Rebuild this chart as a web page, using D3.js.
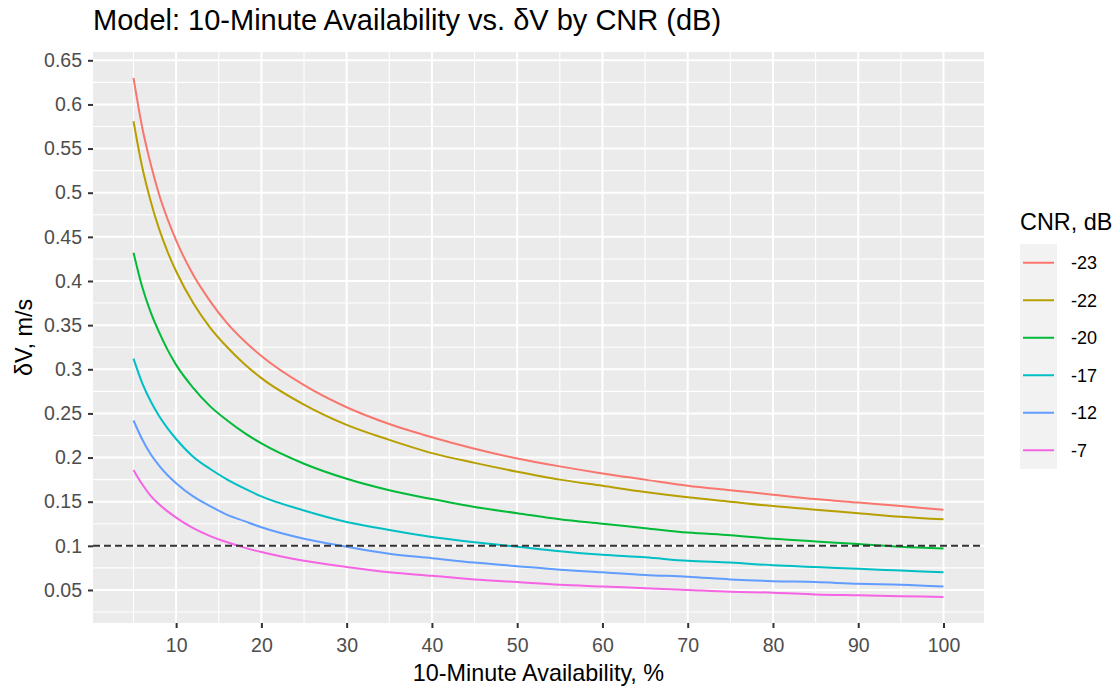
<!DOCTYPE html>
<html>
<head>
  <meta charset="utf-8">
  <title>Model: 10-Minute Availability vs. dV by CNR</title>
  <script src="https://d3js.org/d3.v7.min.js"></script>
  <style>
    body {
      margin: 0;
      background: #fff;
      font-family: Arial, "Liberation Sans", sans-serif;
    }
    .tick-label { font-size: 19.5px; fill: #4d4d4d; }
    .axis-title { font-size: 23.4px; fill: #000; }
  </style>
</head>
<body>
  <div id="chart"></div>
  <script>
    // availability, %
    var availability = [5, 6, 7, 8, 9, 10, 12, 14, 16, 18, 20, 25, 30, 35, 40, 45, 50, 55, 60, 65, 70, 75, 80, 85, 90, 95, 100];

    // CNR levels (dB) shown in the legend
    var cnrLevels = ["-23", "-22", "-20", "-17", "-12", "-7"];

    // delta V, m/s for each CNR
    var dv23 = [0.630, 0.575, 0.533, 0.498, 0.470, 0.446, 0.407, 0.377, 0.352, 0.332, 0.315, 0.282, 0.257, 0.238, 0.223, 0.210, 0.199, 0.190, 0.182, 0.175, 0.168, 0.163, 0.158, 0.153, 0.149, 0.145, 0.141];
    var dv22 = [0.581, 0.530, 0.491, 0.459, 0.433, 0.411, 0.375, 0.347, 0.325, 0.306, 0.290, 0.260, 0.237, 0.220, 0.205, 0.194, 0.184, 0.175, 0.168, 0.161, 0.155, 0.150, 0.145, 0.141, 0.137, 0.133, 0.130];
    var dv20 = [0.432, 0.394, 0.365, 0.342, 0.322, 0.305, 0.279, 0.258, 0.242, 0.228, 0.216, 0.193, 0.176, 0.163, 0.153, 0.144, 0.137, 0.130, 0.125, 0.120, 0.115, 0.112, 0.108, 0.105, 0.102, 0.099, 0.097];
    var dv17 = [0.312, 0.285, 0.264, 0.247, 0.233, 0.221, 0.201, 0.187, 0.175, 0.165, 0.156, 0.140, 0.127, 0.118, 0.110, 0.104, 0.099, 0.094, 0.090, 0.087, 0.083, 0.081, 0.078, 0.076, 0.074, 0.072, 0.070];
    var dv12 = [0.242, 0.221, 0.204, 0.191, 0.180, 0.171, 0.156, 0.145, 0.135, 0.128, 0.121, 0.108, 0.099, 0.091, 0.086, 0.081, 0.077, 0.073, 0.070, 0.067, 0.065, 0.062, 0.060, 0.059, 0.057, 0.056, 0.054];
    var dv7 = [0.186, 0.170, 0.157, 0.147, 0.139, 0.132, 0.120, 0.111, 0.104, 0.098, 0.093, 0.083, 0.076, 0.070, 0.066, 0.062, 0.059, 0.056, 0.054, 0.052, 0.050, 0.048, 0.047, 0.045, 0.044, 0.043, 0.042];

    var threshold = 0.1;

    var xTicks = [10, 20, 30, 40, 50, 60, 70, 80, 90, 100];
    var xMinor = [5, 15, 25, 35, 45, 55, 65, 75, 85, 95];
    var yTicks = [0.05, 0.1, 0.15, 0.2, 0.25, 0.3, 0.35, 0.4, 0.45, 0.5, 0.55, 0.6, 0.65];
    var yMinor = [0.025, 0.075, 0.125, 0.175, 0.225, 0.275, 0.325, 0.375, 0.425, 0.475, 0.525, 0.575, 0.625];

    var colors = ["#F8766D", "#B79F00", "#00BA38", "#00BFC4", "#619CFF", "#F564E3"];

    var seriesValues = [dv23, dv22, dv20, dv17, dv12, dv7];
    var series = cnrLevels.map(function (c, i) {
      return {
        cnr: c,
        color: colors[i],
        points: availability.map(function (a, j) { return { x: a, y: seriesValues[i][j] }; })
      };
    });

    var W = 1119, H = 689;
    var panel = { left: 93, top: 52, right: 984, bottom: 623 };

    var svg = d3.select("#chart")
      .append("svg")
      .attr("width", W)
      .attr("height", H);

    // ggplot style 5% expansion
    function expand(ext) {
      var d = (ext[1] - ext[0]) * 0.05;
      return [ext[0] - d, ext[1] + d];
    }
    var allY = d3.merge(seriesValues);

    var x = d3.scaleLinear()
      .domain(expand(d3.extent(availability)))
      .range([panel.left, panel.right]);

    var y = d3.scaleLinear()
      .domain(expand(d3.extent(allY)))
      .range([panel.bottom, panel.top]);

    // panel background
    svg.append("rect")
      .attr("x", panel.left)
      .attr("y", panel.top)
      .attr("width", panel.right - panel.left)
      .attr("height", panel.bottom - panel.top)
      .attr("fill", "#EBEBEB");

    var grid = svg.append("g");
    grid.selectAll(".ym").data(yMinor.filter(function (v) { return y(v) < panel.bottom && y(v) > panel.top; }))
      .enter().append("line")
      .attr("x1", panel.left).attr("x2", panel.right)
      .attr("y1", d => y(d)).attr("y2", d => y(d))
      .attr("stroke", "#fff").attr("stroke-width", 1.1);
    grid.selectAll(".xm").data(xMinor)
      .enter().append("line")
      .attr("y1", panel.top).attr("y2", panel.bottom)
      .attr("x1", d => x(d)).attr("x2", d => x(d))
      .attr("stroke", "#fff").attr("stroke-width", 1.1);
    grid.selectAll(".yM").data(yTicks)
      .enter().append("line")
      .attr("x1", panel.left).attr("x2", panel.right)
      .attr("y1", d => y(d)).attr("y2", d => y(d))
      .attr("stroke", "#fff").attr("stroke-width", 2);
    grid.selectAll(".xM").data(xTicks)
      .enter().append("line")
      .attr("y1", panel.top).attr("y2", panel.bottom)
      .attr("x1", d => x(d)).attr("x2", d => x(d))
      .attr("stroke", "#fff").attr("stroke-width", 2);

    // axes
    var xAxis = svg.append("g")
      .attr("transform", "translate(0," + panel.bottom + ")")
      .call(d3.axisBottom(x).tickValues(xTicks).tickSize(5).tickPadding(10).tickFormat(d3.format("d")));
    var yAxis = svg.append("g")
      .attr("transform", "translate(" + panel.left + ",0)")
      .call(d3.axisLeft(y).tickValues(yTicks).tickSize(5).tickPadding(6).tickFormat(d => String(+d.toFixed(2))));
    [xAxis, yAxis].forEach(function (ax) {
      ax.select(".domain").remove();
      ax.selectAll(".tick line").attr("stroke", "#333").attr("stroke-width", 2);
      ax.selectAll(".tick text")
        .attr("class", "tick-label")
        .attr("font-family", null)
        .attr("font-size", null)
        .attr("fill", null);
    });

    // curves
    var line = d3.line()
      .x(d => x(d.x))
      .y(d => y(d.y))
      .curve(d3.curveMonotoneX);

    svg.append("g").selectAll("path")
      .data(series)
      .enter().append("path")
      .attr("d", d => line(d.points))
      .attr("fill", "none")
      .attr("stroke", d => d.color)
      .attr("stroke-width", 2);

    // threshold line
    svg.append("line")
      .attr("x1", panel.left).attr("x2", panel.right)
      .attr("y1", y(threshold)).attr("y2", y(threshold))
      .attr("stroke", "#333")
      .attr("stroke-width", 2)
      .attr("stroke-dasharray", "7,4");

    // titles
    svg.append("text")
      .attr("x", panel.left)
      .attr("y", 30)
      .attr("font-size", 29)
      .attr("fill", "#000")
      .text("Model: 10-Minute Availability vs. \u03B4V by CNR (dB)");

    svg.append("text")
      .attr("class", "axis-title")
      .attr("x", (panel.left + panel.right) / 2)
      .attr("y", 681)
      .attr("text-anchor", "middle")
      .text("10-Minute Availability, %");

    svg.append("text")
      .attr("class", "axis-title")
      .attr("transform", "translate(32," + ((panel.top + panel.bottom) / 2) + ") rotate(-90)")
      .attr("text-anchor", "middle")
      .text("\u03B4V, m/s");

    // legend
    var legend = svg.append("g").attr("transform", "translate(1020,0)");
    legend.append("text")
      .attr("class", "axis-title")
      .attr("x", 0)
      .attr("y", 230)
      .text("CNR, dB");

    var keyH = 37.5, keyTop = 244;
    legend.append("rect")
      .attr("x", 0).attr("y", keyTop)
      .attr("width", 37).attr("height", keyH * cnrLevels.length)
      .attr("fill", "#F2F2F2");

    var keys = legend.selectAll(".key")
      .data(series)
      .enter().append("g")
      .attr("transform", (d, i) => "translate(0," + (keyTop + keyH * i + keyH / 2) + ")");
    keys.append("line")
      .attr("x1", 3).attr("x2", 34)
      .attr("stroke", d => d.color)
      .attr("stroke-width", 2);
    keys.append("text")
      .attr("x", 51)
      .attr("dy", "0.35em")
      .attr("font-size", 18)
      .attr("fill", "#000")
      .text(d => d.cnr);
  </script>
</body>
</html>
